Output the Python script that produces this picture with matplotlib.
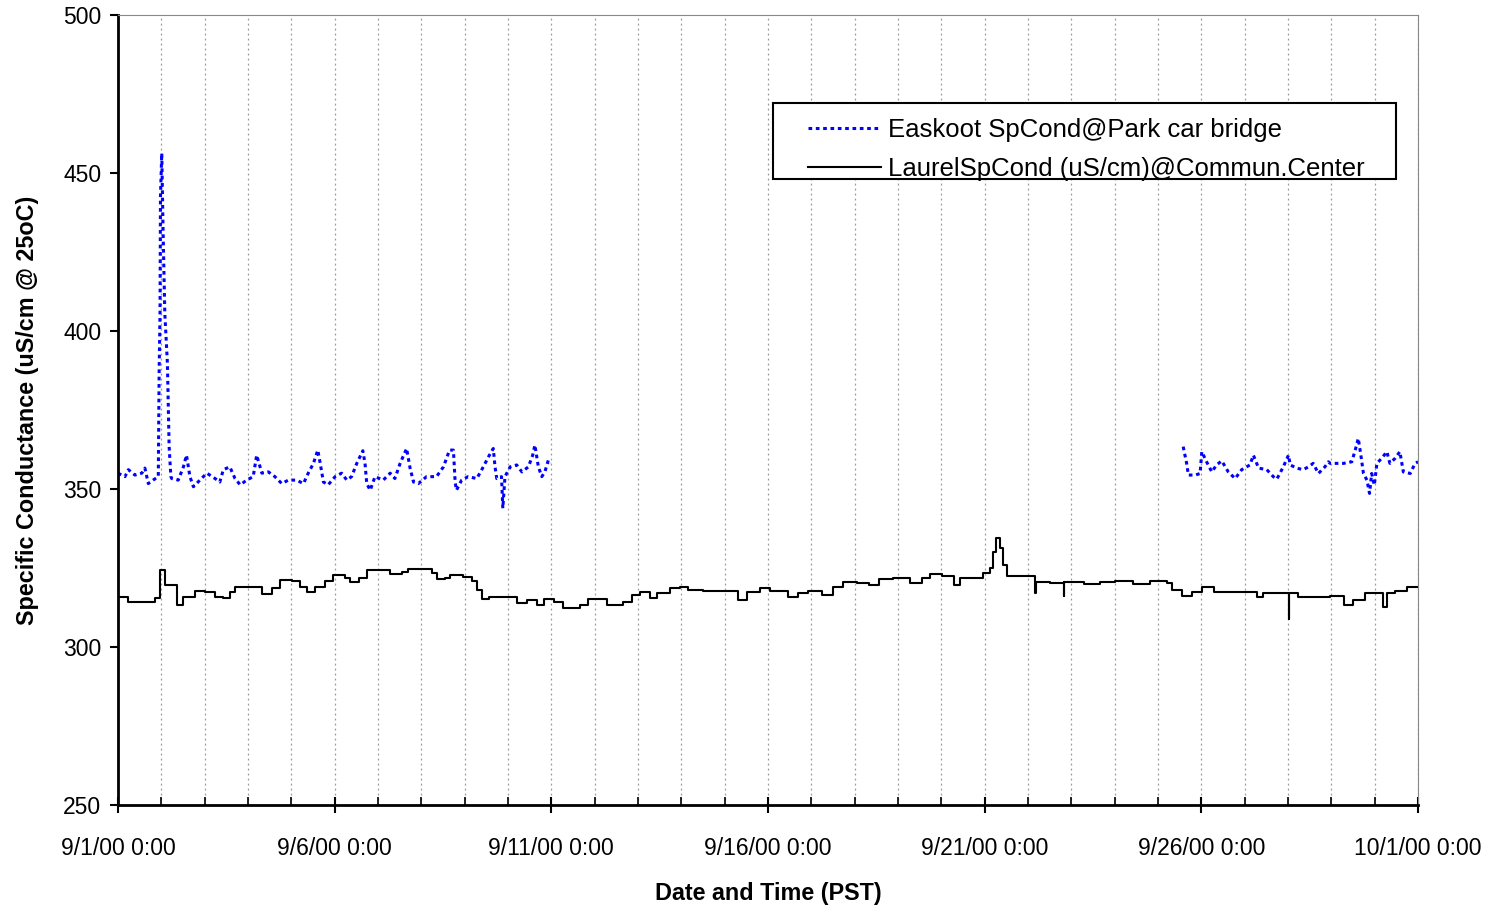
import matplotlib
matplotlib.use("Agg")
import matplotlib.pyplot as plt
from matplotlib.ticker import MultipleLocator
from matplotlib.patches import Rectangle

plt.rcParams['font.family'] = ['Liberation Sans', 'DejaVu Sans']

# days since 9/1/00 0:00
tick_days = [0, 5, 10, 15, 20, 25, 30]
tick_labels = ['9/1/00 0:00', '9/6/00 0:00', '9/11/00 0:00', '9/16/00 0:00',
               '9/21/00 0:00', '9/26/00 0:00', '10/1/00 0:00']

# Easkoot SpCond @ Park car bridge (two pieces, gap between)
eask_t1 = [0.00, 0.16, 0.24, 0.39, 0.55, 0.62, 0.70, 0.81, 0.93, 0.95, 0.97, 0.98,
           1.01, 1.04, 1.08, 1.14, 1.18, 1.22, 1.24, 1.39, 1.51, 1.58, 1.66, 1.74,
           1.89, 2.05, 2.24, 2.35, 2.43, 2.58, 2.70, 2.82, 2.97, 3.12, 3.20, 3.32,
           3.47, 3.62, 3.78, 3.93, 4.12, 4.28, 4.39, 4.51, 4.61, 4.66, 4.74, 4.85,
           5.01, 5.16, 5.28, 5.39, 5.51, 5.65, 5.70, 5.74, 5.82, 5.93, 6.12, 6.28,
           6.39, 6.51, 6.66, 6.74, 6.82, 6.93, 7.12, 7.35, 7.51, 7.65, 7.74, 7.78,
           7.81, 7.93, 8.08, 8.28, 8.43, 8.55, 8.66, 8.70, 8.74, 8.85, 8.88, 8.93,
           9.05, 9.20, 9.32, 9.47, 9.57, 9.62, 9.70, 9.78, 9.85, 9.93, 9.97]
eask_v1 = [355.0, 353.9, 356.1, 354.4, 355.0, 356.6, 351.7, 352.8, 353.9, 387.7, 405.6, 442.5,
           456.2, 432.0, 405.6, 389.8, 363.4, 353.9, 353.3, 352.8, 357.0, 360.7, 353.9, 350.7,
           352.8, 355.0, 353.3, 352.2, 356.1, 357.0, 353.3, 351.3, 352.8, 353.9, 360.7, 355.0,
           355.4, 353.9, 351.7, 352.8, 352.8, 351.7, 355.0, 358.1, 362.3, 358.6, 352.2, 351.3,
           353.9, 355.0, 352.8, 353.9, 358.1, 362.1, 358.1, 351.7, 349.6, 353.9, 352.8, 355.0,
           353.3, 358.1, 362.8, 356.6, 352.2, 351.7, 353.9, 353.9, 357.0, 362.3, 362.3, 352.2,
           349.6, 352.8, 353.9, 353.3, 357.0, 360.2, 362.8, 357.0, 353.3, 353.9, 343.9, 353.9,
           357.0, 357.6, 355.4, 357.0, 360.7, 363.9, 357.0, 353.9, 355.4, 359.1, 358.1]

eask_t2 = [24.58, 24.66, 24.70, 24.86, 24.97, 25.01, 25.12, 25.24, 25.35, 25.47, 25.62,
           25.78, 25.93, 26.12, 26.20, 26.32, 26.51, 26.66, 26.74, 26.89, 27.01, 27.05,
           27.20, 27.35, 27.47, 27.58, 27.70, 27.85, 27.93, 27.97, 28.28, 28.47, 28.55,
           28.62, 28.68, 28.74, 28.82, 28.88, 28.93, 28.99, 29.05, 29.16, 29.28, 29.35,
           29.47, 29.58, 29.66, 29.82, 29.93, 30.00]
eask_v2 = [363.4, 358.1, 354.4, 354.4, 354.9, 361.8, 358.6, 355.4, 357.6, 358.9, 355.4,
           353.3, 356.1, 357.6, 360.7, 356.6, 356.1, 353.9, 353.1, 357.0, 360.7, 357.6,
           356.6, 356.1, 357.0, 358.1, 354.9, 357.0, 358.6, 358.1, 358.1, 358.6, 362.3,
           366.0, 360.7, 354.9, 352.8, 348.6, 354.9, 351.2, 358.1, 359.7, 361.8, 358.1,
           359.7, 361.8, 355.4, 354.9, 358.1, 358.6]

# Laurel SpCond (uS/cm) @ Commun. Center
laurel_t = [0.00, 0.24, 0.70, 0.85, 0.95, 0.98, 1.08, 1.35, 1.51, 1.78, 2.00, 2.24,
            2.43, 2.58, 2.70, 3.08, 3.32, 3.55, 3.74, 4.01, 4.20, 4.35, 4.55, 4.78,
            4.97, 5.24, 5.35, 5.55, 5.74, 6.01, 6.28, 6.55, 6.70, 7.01, 7.24, 7.35,
            7.55, 7.66, 7.97, 8.16, 8.28, 8.39, 8.55, 8.97, 9.20, 9.43, 9.66, 9.82,
            10.05, 10.28, 10.66, 10.85, 11.20, 11.28, 11.66, 11.85, 12.05, 12.28, 12.43,
            12.74, 12.97, 13.16, 13.51, 14.04, 14.31, 14.51, 14.82, 15.05, 15.47, 15.70,
            15.93, 16.24, 16.51, 16.74, 17.05, 17.32, 17.55, 17.89, 18.28, 18.55, 18.74,
            19.01, 19.28, 19.43, 19.74, 19.97, 20.12, 20.20, 20.26, 20.35, 20.43, 20.51,
            21.01, 21.16, 21.17, 21.18, 21.51, 21.82, 21.83, 21.84, 22.28, 22.66, 23.01,
            23.43, 23.82, 24.20, 24.32, 24.55, 24.78, 25.01, 25.28, 26.01, 26.28, 26.43,
            27.01, 27.02, 27.03, 27.24, 27.97, 28.28, 28.51, 28.78, 29.01, 29.20, 29.28,
            29.47, 29.74, 30.00]
laurel_v = [315.9, 314.3, 314.3, 315.6, 315.6, 324.4, 319.6, 313.3, 315.9, 317.7, 317.3, 315.9,
            315.6, 317.5, 319.1, 319.1, 316.7, 318.6, 321.1, 321.0, 319.1, 317.5, 319.1, 320.9,
            322.8, 321.7, 320.5, 321.9, 324.4, 324.4, 323.0, 323.8, 324.7, 324.7, 323.3, 321.5,
            321.9, 322.8, 322.2, 320.9, 318.0, 315.2, 315.9, 315.9, 313.8, 314.9, 313.3, 315.2,
            314.1, 312.4, 313.3, 315.2, 315.2, 313.3, 314.1, 316.5, 317.5, 315.4, 317.0,
            318.8, 319.1, 318.0, 317.7, 317.7, 314.9, 317.3, 318.6, 317.7, 315.9, 317.0,
            317.7, 316.5, 319.1, 320.7, 320.1, 319.6, 321.5, 321.9, 320.1, 321.9, 323.0,
            322.6, 319.6, 321.7, 321.7, 323.3, 324.9, 330.2, 334.6, 331.3, 326.0, 322.3,
            322.3, 320.7, 317.0, 320.7, 320.1, 320.7, 316.0, 320.4, 319.9, 320.7, 321.0,
            319.9, 320.9, 320.1, 318.0, 316.1, 317.5, 318.9, 317.5, 317.5, 315.9, 317.0,
            317.2, 308.8, 317.2, 315.9, 316.1, 313.3, 314.9, 317.0, 317.0, 312.8, 317.2,
            317.8, 319.1, 319.1]

fig = plt.figure(figsize=(14.88, 9.07), dpi=100)
ax = fig.add_axes([0.0793, 0.1125, 0.8737, 0.871])

ax.plot(eask_t1, eask_v1, color='#0000FF', linewidth=2.2, linestyle=(0, (1.2, 1.2)),
        label='Easkoot SpCond@Park car bridge')
ax.plot(eask_t2, eask_v2, color='#0000FF', linewidth=2.2, linestyle=(0, (1.2, 1.2)))
ax.plot(laurel_t, laurel_v, color='black', linewidth=1.5, drawstyle='steps-post',
        label='LaurelSpCond (uS/cm)@Commun.Center')

ax.set_xlim(0, 30)
ax.set_ylim(250, 500)
ax.set_xticks(tick_days)
ax.set_xticklabels(tick_labels)
ax.xaxis.set_minor_locator(MultipleLocator(1))
ax.set_yticks([250, 300, 350, 400, 450, 500])

ax.grid(True, which='both', axis='x', color='#999999', linestyle=(0, (1.5, 2.5)), linewidth=0.9)

ax.tick_params(axis='x', which='major', direction='inout', length=11.5, width=1.5,
               labelsize=16.5, pad=17.5)
ax.tick_params(axis='x', which='minor', direction='in', length=6, width=1.2)
ax.tick_params(axis='y', which='major', direction='out', length=6, width=1.5,
               labelsize=16.5, pad=6)

for side in ['left', 'bottom']:
    ax.spines[side].set_linewidth(2)
for side in ['top', 'right']:
    ax.spines[side].set_color('#888888')
    ax.spines[side].set_linewidth(0.8)

ax.set_xlabel('Date and Time (PST)', fontsize=16.8, fontweight='bold', labelpad=16)
ax.set_ylabel('Specific Conductance (uS/cm @ 25oC)', fontsize=16.8, fontweight='bold', labelpad=17)

# legend frame drawn separately (wider padding at the sides than at top/bottom)
ax.add_patch(Rectangle((0.5038, 0.7924), 0.4792, 0.0962, transform=ax.transAxes,
                       facecolor='white', edgecolor='black', linewidth=1.5, zorder=4))
leg = ax.legend(loc='upper left', bbox_to_anchor=(0.5308, 0.869), fontsize=18.5,
                frameon=False, handlelength=2.85, handletextpad=0.25, borderpad=0,
                labelspacing=0.57, borderaxespad=0)
leg.set_zorder(5)

fig.savefig('out.png', dpi=100)
